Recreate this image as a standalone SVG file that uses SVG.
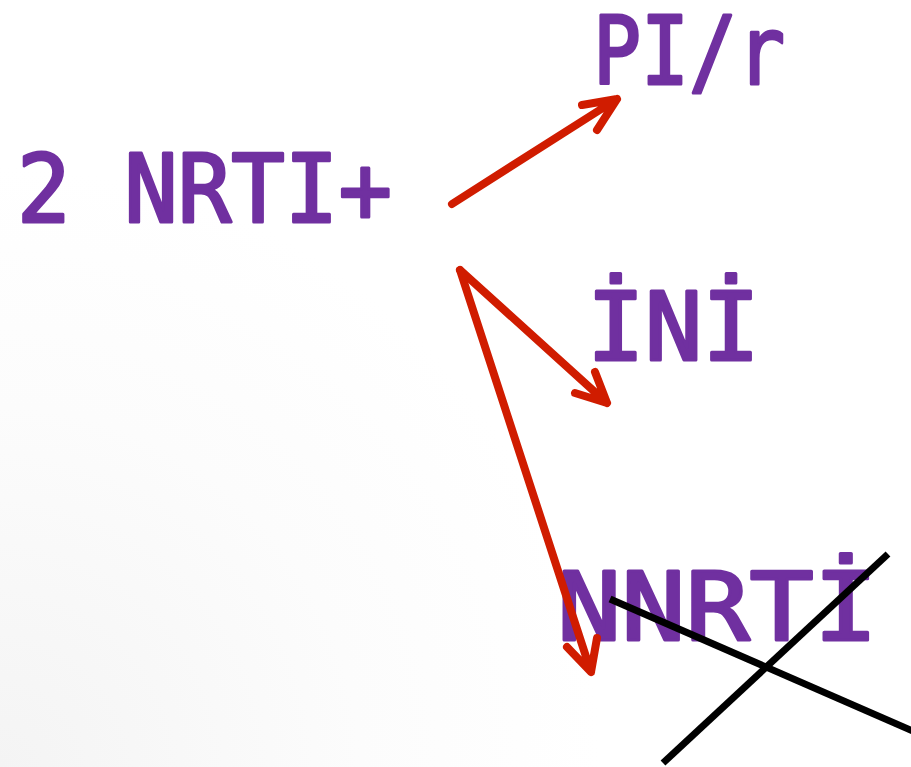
<svg xmlns="http://www.w3.org/2000/svg" width="911" height="767" viewBox="0 0 911 767">
<defs>
<radialGradient id="bg" cx="0" cy="767" r="600" gradientUnits="userSpaceOnUse">
<stop offset="0" stop-color="#f4f4f4"/>
<stop offset="0.6" stop-color="#fcfcfc"/>
<stop offset="1" stop-color="#ffffff"/>
</radialGradient>
<style>
.lbl{font-family:"DejaVu Sans Mono","Liberation Mono",monospace;font-size:94px;fill:#7030A0;stroke:#7030A0;stroke-width:3;stroke-linejoin:round}
.arr{fill:none;stroke:#D01C00;stroke-width:8;stroke-linecap:round;stroke-linejoin:round}
.x{stroke:#000;stroke-width:7}
</style>
</defs>
<rect width="911" height="767" fill="url(#bg)"/>
<g id="n-source"><text class="lbl" x="17" y="222" textLength="375" lengthAdjust="spacingAndGlyphs">2 NRTI+</text></g>
<g id="n-pir"><text class="lbl" x="593" y="84" font-size="90" textLength="192" lengthAdjust="spacingAndGlyphs">PI/r</text></g>
<g id="n-ini"><text class="lbl" x="587" y="360" textLength="173" lengthAdjust="spacingAndGlyphs">İNİ</text></g>
<g id="n-nnrti"><text class="lbl" x="557" y="640" textLength="321" lengthAdjust="spacingAndGlyphs">NNRTİ</text></g>
<g id="connectors">
<path class="arr" d="M452,204 L617,99 M582,105 L617,99 L597,130"/>
<path class="arr" d="M460,270 L607,403 M575,393 L607,403 L595,372"/>
<path class="arr" d="M460,270 L591,672 M567,647 L591,672 L597,638"/>
</g>
<g id="cross">
<line class="x" x1="610" y1="599" x2="915" y2="732"/>
<line class="x" x1="888" y1="554" x2="663" y2="763"/>
</g>
</svg>
